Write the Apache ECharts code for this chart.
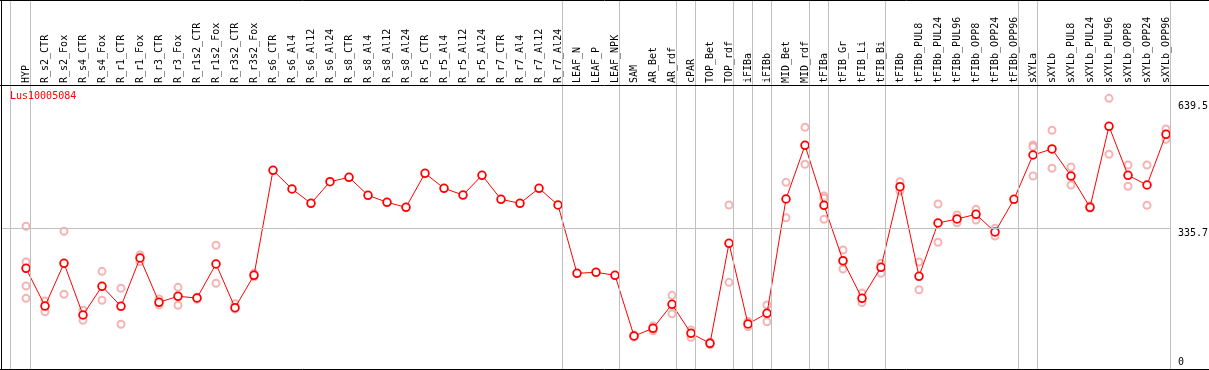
<!DOCTYPE html>
<html><head><meta charset="utf-8">
<script src="https://cdn.jsdelivr.net/npm/echarts@6/dist/echarts.min.js"></script>
<style>html,body{margin:0;padding:0;background:#fff}#c{width:1209px;height:370px}</style>
</head><body><div id="c"></div><script>
const seriesName = 'Lus10005084';
const categories = ['HYP','R_s2_CTR','R_s2_Fox','R_s4_CTR','R_s4_Fox','R_r1_CTR','R_r1_Fox','R_r3_CTR','R_r3_Fox','R_r1s2_CTR','R_r1s2_Fox','R_r3s2_CTR','R_r3s2_Fox','R_s6_CTR','R_s6_Al4','R_s6_Al12','R_s6_Al24','R_s8_CTR','R_s8_Al4','R_s8_Al12','R_s8_Al24','R_r5_CTR','R_r5_Al4','R_r5_Al12','R_r5_Al24','R_r7_CTR','R_r7_Al4','R_r7_Al12','R_r7_Al24','LEAF_N','LEAF_P','LEAF_NPK','SAM','AR_Bet','AR_rdf','cPAR','TOP_Bet','TOP_rdf','iFIBa','iFIBb','MID_Bet','MID_rdf','tFIBa','tFIB_Gr','tFIB_Li','tFIB_Bi','tFIBb','tFIBb_PUL8','tFIBb_PUL24','tFIBb_PUL96','tFIBb_OPP8','tFIBb_OPP24','tFIBb_OPP96','sXYLa','sXYLb','sXYLb_PUL8','sXYLb_PUL24','sXYLb_PUL96','sXYLb_OPP8','sXYLb_OPP24','sXYLb_OPP96'];
const meanValues = [242.3,154.2,254.0,133.2,200.3,153.5,266.4,162.9,176.9,172.9,252.4,150.3,226.0,471.4,427.7,394.2,444.7,455.0,412.9,396.6,384.9,464.4,429.3,413.6,459.7,403.6,394.2,429.3,390.3,230.7,233.0,226.0,84.1,102.1,158.2,90.4,67.1,300.8,112.2,137.2,404.3,529.8,389.6,260.1,172.2,244.7,433.0,223.6,348.2,357.6,368.5,327.2,403.6,507.1,521.2,458.0,384.9,574.2,459.7,437.0,555.5];
const N = null;
const rep1 = [340.5,165.9,328.8,144.2,235.3,195.6,273.4,170.6,197.9,175.3,296.1,159.6,230.7,N,N,N,N,N,N,N,N,N,N,N,N,N,N,N,N,N,N,N,86.5,107.5,179.2,98.2,70.1,390.3,105.9,156.6,443.3,571.9,411.3,285.1,184.6,254.0,444.7,257.1,392.6,366.9,380.2,335.8,N,530.5,564.9,479.1,388.6,639.5,483.8,483.8,567.9];
const rep2 = [257.1,140.9,181.6,120.8,167.6,111.5,257.8,156.6,155.9,169.9,207.3,147.2,222.7,N,N,N,N,N,N,N,N,N,N,N,N,N,N,N,N,N,N,N,81.8,96.5,136.2,81.1,63.8,209.6,118.0,117.5,360.6,485.4,405.9,240.7,162.0,230.7,423.0,192.3,303.1,348.9,355.2,317.8,N,526.5,476.1,437.0,382.6,508.8,434.0,389.6,543.8];
const rep3 = {0:201.0, 42:356.9, 43:257.1, 53:458.0};
const rep4 = {0:172.2};
const groupEnds = [-1,0,28,31,34,35,37,38,39,41,42,45,52,53,60];
const midLine = 335.7;
const maxValue = 639.5;

const FONT = "'DejaVu Sans Mono', monospace";
const yMax = 372 / 0.4279;
const repData = [];
categories.forEach((c, i) => {
  [rep1[i], rep2[i], rep3[i], rep4[i]].forEach(v => { if (v != null) repData.push([i, v]); });
});
const sepOffset = 4.5 / 19;
const sepLines = groupEnds.map(i => {
  const x = i < 0 ? -0.8158 : i + sepOffset;
  return [{coord:[x, 0]}, {coord:[x, yMax]}];
});
sepLines.push([{coord:[-25/19, midLine]}, {coord:[1145/19, midLine]}]);

const yBase = {type:'value', min:0, max:yMax, position:'right', axisLine:{show:false}, axisTick:{show:false}, splitLine:{show:false}};
const chart = echarts.init(document.getElementById('c'), null, {renderer:'canvas'});
chart.setOption({
  animation:false,
  backgroundColor:'#fff',
  title:{text:seriesName, left:10, top:91, padding:0, textStyle:{fontFamily:FONT, fontSize:10, fontWeight:'normal', color:'#ff0000'}},
  grid:{left:1, right:38, top:0, bottom:-2, containLabel:false, outerBoundsMode:'none'},
  xAxis:{type:'value', min:-25/19, max:1145/19, position:'top', offset:-85,
    axisLine:{show:false}, axisTick:{show:false}, splitLine:{show:false},
    axisLabel:{customValues:categories.map((_, i) => i), formatter:v => categories[Math.round(v)] || '', rotate:90, margin:2, fontFamily:FONT, fontSize:10, color:'#000'}},
  yAxis:[
    Object.assign({}, yBase, {axisLabel:{customValues:[midLine], formatter:v => String(v), verticalAlign:'top', align:'left', margin:7, fontFamily:FONT, fontSize:10, color:'#000'}}),
    Object.assign({}, yBase, {axisLabel:{customValues:[maxValue], formatter:v => String(v), verticalAlign:'top', align:'left', margin:7, padding:[3,0,0,0], fontFamily:FONT, fontSize:10, color:'#000'}}),
    Object.assign({}, yBase, {axisLabel:{customValues:[0], formatter:v => String(v), verticalAlign:'bottom', align:'left', margin:7, padding:[0,0,5,0], fontFamily:FONT, fontSize:10, color:'#000'}})
  ],
  series:[
    {type:'scatter', name:'replicates', data:repData, symbol:'emptyCircle', symbolSize:7, z:1,
      itemStyle:{color:'#f4a0a0', borderColor:'#ee9090', borderWidth:1.2}, silent:true,
      markLine:{silent:true, symbol:'none', label:{show:false}, lineStyle:{color:'#c0c0c0', width:1, type:'solid'}, data:sepLines, animation:false}},
    {type:'line', name:seriesName, data:meanValues.map((v, i) => [i, v]), symbol:'emptyCircle', symbolSize:7.5, z:3,
      itemStyle:{color:'#ff0000', borderColor:'#ff0000', borderWidth:1.6}, lineStyle:{color:'#ff0000', width:1}, silent:true},
    {type:'scatter', name:seriesName + ' core', data:meanValues.map((v, i) => [i, v]), symbol:'emptyCircle', symbolSize:4, z:4,
      itemStyle:{color:'#fff', borderColor:'#5a0000', borderWidth:0.8, opacity:0.7}, silent:true}
  ],
  graphic:[
    {type:'line', shape:{x1:0, y1:0.5, x2:1209, y2:0.5}, style:{stroke:'#000', lineWidth:1}, z:10},
    {type:'line', shape:{x1:0, y1:85.5, x2:1209, y2:85.5}, style:{stroke:'#000', lineWidth:1}, z:10},
    {type:'line', shape:{x1:0, y1:369.5, x2:1209, y2:369.5}, style:{stroke:'#000', lineWidth:1}, z:10},
    {type:'line', shape:{x1:1.5, y1:0, x2:1.5, y2:370}, style:{stroke:'#000', lineWidth:1}, z:10}
  ]
});
</script></body></html>
